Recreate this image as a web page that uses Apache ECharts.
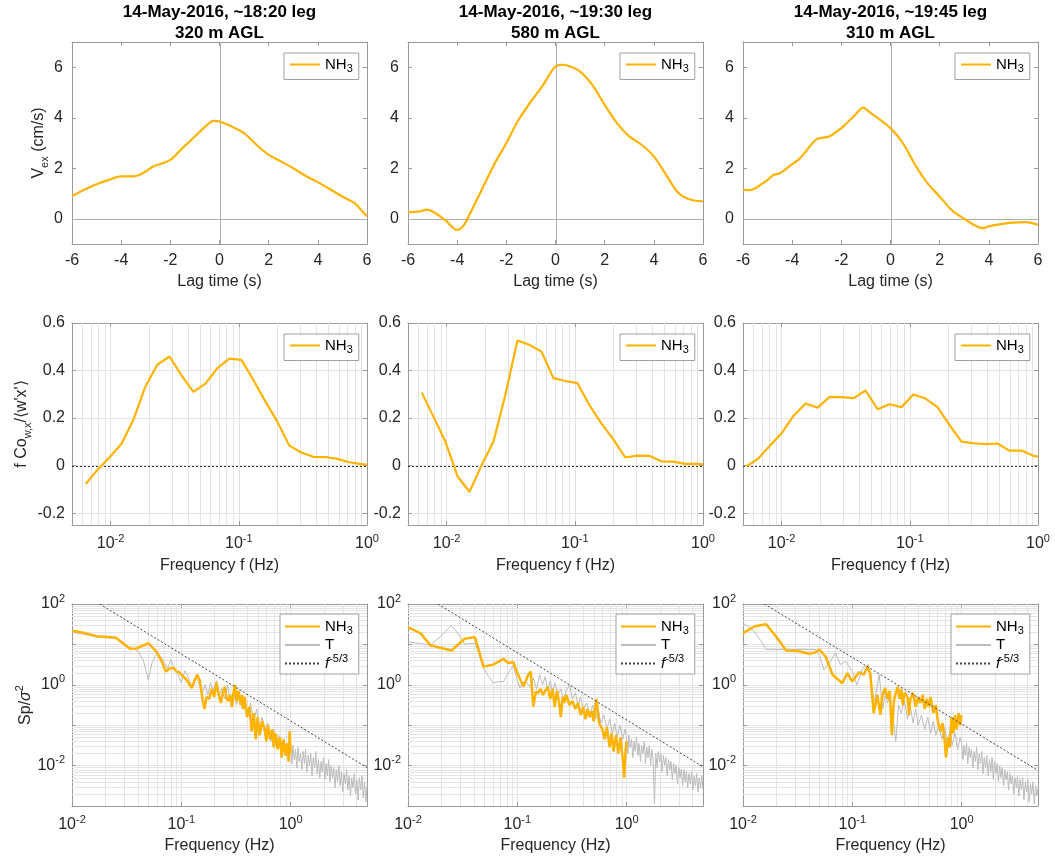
<!DOCTYPE html>
<html><head><meta charset="utf-8">
<script src="https://cdn.jsdelivr.net/npm/echarts@6/dist/echarts.min.js"></script>
<style>html,body{margin:0;padding:0;background:#fff}#c{width:1055px;height:860px}</style>
</head><body><div id="c"></div>
<script>
// ---------------- DATA ----------------
const titleLines = [
  ['14-May-2016, ~18:20 leg', '320 m AGL'],
  ['14-May-2016, ~19:30 leg', '580 m AGL'],
  ['14-May-2016, ~19:45 leg', '310 m AGL']
];
const lagTicks = [-6, -4, -2, 0, 2, 4, 6];

// Row 1: exchange velocity V_ex (cm/s) vs lag time (s): [lag, value]
const vex1 = [[-6,0.9],[-5.5,1.15],[-5,1.37],[-4.5,1.54],[-4,1.68],[-3.5,1.68],[-3.3,1.72],[-3,1.87],[-2.7,2.07],[-2.5,2.14],[-2,2.33],[-1.5,2.8],[-1,3.26],[-0.5,3.72],[-0.25,3.88],[0,3.85],[0.5,3.65],[1,3.39],[1.5,2.93],[2,2.53],[2.5,2.27],[3,2.0],[3.5,1.7],[4,1.45],[4.5,1.17],[5,0.88],[5.5,0.62],[5.75,0.36],[6,0.1]];
const vex2 = [[-6,0.25],[-5.5,0.29],[-5.25,0.36],[-5,0.29],[-4.5,-0.04],[-4,-0.44],[-3.75,-0.28],[-3.5,0.16],[-3,1.15],[-2.5,2.14],[-2,3.0],[-1.5,3.92],[-1,4.64],[-0.5,5.3],[-0.25,5.7],[0,6.03],[0.25,6.1],[0.5,6.06],[1,5.83],[1.5,5.3],[2,4.51],[2.5,3.79],[3,3.26],[3.5,2.93],[4,2.47],[4.5,1.74],[5,1.02],[5.5,0.75],[6,0.69]];
const vex3 = [[-6,1.15],[-5.75,1.13],[-5.5,1.21],[-5,1.54],[-4.75,1.74],[-4.5,1.8],[-4,2.16],[-3.75,2.33],[-3.5,2.6],[-3,3.15],[-2.5,3.26],[-2,3.59],[-1.5,4.05],[-1.1,4.4],[-1,4.34],[-0.8,4.18],[-0.5,3.98],[0,3.59],[0.5,3.0],[1,2.14],[1.5,1.41],[2,0.88],[2.5,0.33],[3,0.0],[3.5,-0.3],[3.75,-0.37],[4,-0.3],[4.5,-0.21],[5,-0.15],[5.5,-0.13],[6,-0.24]];

// Row 2: normalised cospectrum f Co / <w'x'> vs frequency (Hz): [f, value]
const cosp1 = [[0.0064,-0.077],[0.0079,-0.018],[0.0098,0.034],[0.0122,0.093],[0.0151,0.194],[0.0187,0.333],[0.0232,0.425],[0.0288,0.459],[0.0357,0.38],[0.0443,0.31],[0.0549,0.345],[0.0681,0.41],[0.0845,0.45],[0.1048,0.445],[0.1299,0.36],[0.1611,0.27],[0.1998,0.185],[0.2478,0.084],[0.3073,0.055],[0.3811,0.037],[0.4726,0.036],[0.5861,0.028],[0.7268,0.014],[0.9013,0.006],[1.0,0.004]];
const cosp2 = [[0.0064,0.307],[0.0079,0.206],[0.0098,0.10],[0.0122,-0.046],[0.0151,-0.11],[0.0187,0.0],[0.0232,0.10],[0.0288,0.30],[0.0357,0.526],[0.0443,0.508],[0.0549,0.48],[0.0681,0.368],[0.0845,0.356],[0.1048,0.347],[0.1299,0.255],[0.1611,0.178],[0.1998,0.11],[0.2478,0.034],[0.3073,0.042],[0.3811,0.041],[0.4726,0.018],[0.5861,0.017],[0.7268,0.007],[0.9013,0.007],[1.0,0.005]];
const cosp3 = [[0.0053,-0.004],[0.0065,0.027],[0.0081,0.083],[0.0100,0.136],[0.0124,0.21],[0.0154,0.261],[0.0191,0.244],[0.0237,0.289],[0.0294,0.288],[0.0365,0.284],[0.0452,0.316],[0.0561,0.237],[0.0695,0.258],[0.0862,0.246],[0.1069,0.299],[0.1326,0.282],[0.1644,0.246],[0.2039,0.171],[0.2529,0.101],[0.3136,0.094],[0.3889,0.09],[0.4823,0.093],[0.5981,0.063],[0.7417,0.063],[0.9197,0.041],[1.0,0.038]];

// Row 3: normalised spectra, [f (Hz), log10(Sp/sigma^2)]
const nh3Sp1 = [[0.010,1.34],[0.013,1.28],[0.017,1.20],[0.025,1.17],[0.034,0.89],[0.039,0.90],[0.050,1.03],[0.060,0.80],[0.067,0.55],[0.072,0.33],[0.078,0.40],[0.085,0.42],[0.090,0.33],[0.095,0.32],[0.10,0.25],[0.11,0.15],[0.125,-0.08],[0.132,0.10],[0.14,0.25],[0.148,0.10],[0.155,-0.30],[0.163,-0.60],[0.17,-0.30],[0.18,-0.35],[0.19,-0.10],[0.20,-0.30],[0.21,0.05],[0.22,-0.25],[0.23,-0.45],[0.24,-0.20],[0.25,-0.05],[0.26,-0.35],[0.27,-0.40],[0.28,-0.25],[0.29,-0.55],[0.30,-0.20],[0.31,0.00],[0.32,-0.40],[0.33,-0.15],[0.35,-0.50],[0.36,-0.25],[0.37,-0.60],[0.38,-0.30],[0.40,-0.80],[0.42,-0.55],[0.44,-1.15],[0.46,-0.70],[0.48,-1.35],[0.50,-0.80],[0.52,-1.25],[0.55,-0.90],[0.58,-1.10],[0.60,-1.40],[0.62,-1.00],[0.65,-1.35],[0.68,-1.10],[0.70,-1.55],[0.73,-1.20],[0.76,-1.60],[0.80,-1.30],[0.83,-1.80],[0.86,-1.35],[0.90,-1.75],[0.93,-1.45],[0.96,-1.90],[0.98,-1.15],[1.00,-1.70]];
const tSp1 = [[0.010,1.30],[0.013,1.25],[0.017,1.18],[0.025,1.15],[0.034,0.92],[0.040,0.85],[0.045,0.60],[0.050,0.12],[0.054,0.55],[0.060,0.80],[0.065,0.70],[0.070,0.55],[0.075,0.40],[0.080,0.62],[0.085,0.45],[0.092,0.30],[0.10,0.05],[0.108,0.35],[0.115,0.20],[0.125,-0.05],[0.135,0.20],[0.145,0.05],[0.155,-0.20],[0.165,0.00],[0.175,-0.25],[0.185,0.05],[0.195,-0.15],[0.21,0.10],[0.22,-0.30],[0.235,-0.10],[0.25,-0.35],[0.265,0.00],[0.28,-0.45],[0.30,-0.20],[0.32,-0.50],[0.34,-0.15],[0.36,-0.60],[0.38,-0.30],[0.40,-0.80],[0.43,-0.45],[0.46,-0.90],[0.49,-0.60],[0.52,-1.10],[0.55,-0.80],[0.58,-1.25],[0.62,-0.95],[0.66,-1.40],[0.70,-1.10],[0.74,-1.50],[0.78,-1.25],[0.82,-1.65],[0.87,-1.35],[0.92,-1.75],[0.97,-1.45],
  [1.00,-1.55],[1.03,-1.95],[1.05,-1.50],[1.08,-1.85],[1.11,-1.60],[1.14,-2.05],[1.17,-1.55],[1.20,-1.90],[1.23,-1.70],[1.27,-2.10],[1.30,-1.65],[1.34,-1.95],[1.37,-1.60],[1.41,-2.15],[1.45,-1.75],[1.49,-2.00],[1.53,-1.70],[1.57,-2.25],[1.61,-1.80],[1.66,-2.05],[1.70,-1.65],[1.75,-2.20],[1.80,-1.85],[1.85,-2.30],[1.90,-1.90],[1.95,-2.15],[2.00,-1.80],[2.06,-2.35],[2.11,-1.95],[2.17,-2.25],[2.23,-1.85],[2.29,-2.40],[2.35,-2.00],[2.42,-2.30],[2.48,-2.05],[2.55,-2.55],[2.62,-2.10],[2.69,-2.40],[2.77,-2.00],[2.84,-2.50],[2.92,-2.15],[3.00,-2.65],[3.08,-2.20],[3.17,-2.45],[3.25,-2.10],[3.34,-2.60],[3.43,-2.25],[3.53,-2.75],[3.62,-2.30],[3.72,-2.55],[3.83,-2.20],[3.93,-2.70],[4.04,-2.35],[4.15,-2.85],[4.26,-2.30],[4.38,-2.60],[4.50,-2.25],[4.62,-2.80],[4.75,-2.40],[4.88,-2.90],[5.00,-2.50]];
const nh3Sp2 = [[0.010,1.42],[0.013,1.28],[0.016,0.98],[0.025,0.85],[0.033,1.14],[0.041,1.18],[0.049,0.45],[0.060,0.50],[0.075,0.64],[0.083,0.54],[0.092,0.56],[0.10,0.29],[0.114,-0.04],[0.126,0.25],[0.133,0.33],[0.140,-0.54],[0.148,-0.17],[0.155,-0.20],[0.163,-0.10],[0.172,-0.25],[0.18,-0.15],[0.19,-0.05],[0.20,-0.35],[0.21,-0.10],[0.22,-0.55],[0.23,-0.15],[0.24,-0.40],[0.25,-0.80],[0.26,-0.30],[0.27,-0.45],[0.28,-0.25],[0.30,-0.50],[0.32,-0.40],[0.34,-0.60],[0.36,-0.45],[0.38,-0.75],[0.40,-0.55],[0.42,-0.85],[0.44,-0.60],[0.46,-0.80],[0.48,-0.65],[0.50,-0.90],[0.53,-0.35],[0.56,-0.95],[0.60,-1.10],[0.63,-1.35],[0.66,-1.05],[0.70,-1.55],[0.73,-1.20],[0.76,-1.65],[0.80,-1.25],[0.84,-1.70],[0.88,-1.30],[0.92,-1.80],[0.95,-2.30],[0.98,-1.60],[1.00,-1.40]];
const tSp2 = [[0.010,1.07],[0.013,1.02],[0.016,0.98],[0.020,1.20],[0.025,1.47],[0.029,1.25],[0.033,1.00],[0.037,1.02],[0.041,1.03],[0.045,0.75],[0.049,0.41],[0.055,0.20],[0.060,0.04],[0.068,0.08],[0.075,0.08],[0.083,0.30],[0.092,0.48],[0.099,0.15],[0.106,-0.08],[0.113,0.05],[0.12,0.08],[0.13,-0.05],[0.14,0.17],[0.15,-0.10],[0.16,0.25],[0.17,0.00],[0.18,0.20],[0.19,-0.15],[0.20,0.10],[0.21,-0.20],[0.22,0.05],[0.235,-0.25],[0.25,-0.10],[0.265,-0.40],[0.28,-0.15],[0.30,0.00],[0.32,-0.35],[0.34,-0.20],[0.36,-0.50],[0.38,-0.30],[0.40,-0.60],[0.43,-0.45],[0.46,-0.75],[0.49,-0.50],[0.52,-0.85],[0.55,-0.60],[0.58,-0.95],[0.62,-0.75],[0.66,-1.10],[0.70,-0.85],[0.74,-1.20],[0.78,-0.95],[0.82,-1.30],[0.87,-1.00],[0.92,-1.35],[0.97,-1.10],
  [1.00,-1.30],[1.03,-1.70],[1.05,-1.25],[1.08,-1.55],[1.11,-1.35],[1.14,-1.80],[1.17,-1.40],[1.20,-1.65],[1.23,-1.30],[1.27,-1.75],[1.30,-1.45],[1.34,-1.90],[1.37,-1.50],[1.41,-1.70],[1.45,-1.40],[1.49,-1.95],[1.53,-1.55],[1.57,-1.80],[1.61,-1.50],[1.66,-2.00],[1.70,-1.60],[1.75,-1.85],[1.80,-2.95],[1.85,-1.70],[1.90,-2.05],[1.95,-1.65],[2.00,-1.90],[2.06,-1.70],[2.11,-2.15],[2.17,-1.75],[2.23,-2.00],[2.29,-1.80],[2.35,-2.25],[2.42,-1.85],[2.48,-2.10],[2.55,-1.90],[2.62,-2.35],[2.69,-1.95],[2.77,-2.20],[2.84,-2.00],[2.92,-2.45],[3.00,-2.05],[3.08,-2.30],[3.17,-2.10],[3.25,-2.50],[3.34,-2.10],[3.43,-2.40],[3.53,-2.15],[3.62,-2.55],[3.72,-2.20],[3.83,-2.45],[3.93,-2.15],[4.04,-2.60],[4.15,-2.25],[4.26,-2.50],[4.38,-2.20],[4.50,-2.65],[4.62,-2.30],[4.75,-2.55],[4.88,-2.25],[5.00,-2.60]];
const nh3Sp3 = [[0.010,1.28],[0.0128,1.45],[0.0163,1.50],[0.020,1.20],[0.0248,0.85],[0.0327,0.83],[0.040,0.77],[0.045,0.79],[0.050,0.87],[0.057,0.70],[0.066,0.25],[0.081,0.04],[0.090,0.29],[0.100,0.08],[0.115,0.31],[0.128,0.25],[0.137,0.45],[0.146,0.29],[0.157,-0.70],[0.169,-0.25],[0.181,-0.74],[0.187,-0.29],[0.20,-0.08],[0.21,-0.35],[0.22,-0.15],[0.23,-1.24],[0.24,-0.40],[0.25,-0.20],[0.26,-0.05],[0.27,-0.35],[0.28,-0.10],[0.29,-0.50],[0.30,-0.20],[0.32,-0.30],[0.33,-0.75],[0.34,-0.35],[0.36,-0.20],[0.38,-0.55],[0.40,-0.30],[0.42,-0.45],[0.44,-0.25],[0.46,-0.60],[0.48,-0.35],[0.50,-0.55],[0.52,-0.30],[0.55,-0.70],[0.58,-0.50],[0.61,-0.95],[0.64,-1.15],[0.67,-0.95],[0.70,-1.40],[0.72,-1.80],[0.75,-1.30],[0.78,-1.55],[0.81,-0.80],[0.84,-1.20],[0.87,-0.75],[0.90,-1.10],[0.94,-0.70],[0.97,-1.00],[1.00,-0.75]];
const tSp3 = [[0.010,1.53],[0.0123,1.36],[0.0145,1.10],[0.0163,0.87],[0.020,0.87],[0.025,0.88],[0.030,0.87],[0.035,0.88],[0.040,0.87],[0.046,0.87],[0.050,0.75],[0.055,0.37],[0.062,0.54],[0.070,0.79],[0.078,0.50],[0.087,0.58],[0.100,0.33],[0.110,0.00],[0.124,0.41],[0.140,0.50],[0.150,-0.10],[0.160,-0.40],[0.176,0.25],[0.190,-0.60],[0.20,-0.20],[0.21,-0.45],[0.22,-0.30],[0.235,-0.75],[0.25,-1.40],[0.265,-0.50],[0.28,-0.70],[0.30,-0.40],[0.32,-0.85],[0.34,-0.55],[0.36,-0.95],[0.38,-0.60],[0.40,-1.00],[0.43,-0.75],[0.46,-1.10],[0.49,-0.80],[0.52,-1.20],[0.55,-0.90],[0.58,-1.25],[0.62,-1.00],[0.66,-1.35],[0.70,-1.05],[0.74,-1.45],[0.78,-1.15],[0.82,-1.50],[0.87,-1.20],[0.92,-1.60],[0.97,-1.30],
  [1.00,-1.45],[1.03,-1.85],[1.05,-1.50],[1.08,-1.75],[1.11,-1.45],[1.14,-1.95],[1.17,-1.55],[1.20,-1.80],[1.23,-1.60],[1.27,-2.05],[1.30,-1.65],[1.34,-1.90],[1.37,-1.55],[1.41,-2.10],[1.45,-1.70],[1.49,-1.95],[1.53,-1.65],[1.57,-2.20],[1.61,-1.80],[1.66,-2.05],[1.70,-1.75],[1.75,-2.25],[1.80,-1.85],[1.85,-2.15],[1.90,-1.80],[1.95,-2.35],[2.00,-1.90],[2.06,-2.20],[2.11,-1.95],[2.17,-2.40],[2.23,-2.00],[2.29,-2.30],[2.35,-2.05],[2.42,-2.50],[2.48,-2.10],[2.55,-2.35],[2.62,-2.15],[2.69,-2.60],[2.77,-2.20],[2.84,-2.45],[2.92,-2.25],[3.00,-2.70],[3.08,-2.30],[3.17,-2.55],[3.25,-2.25],[3.34,-2.75],[3.43,-2.35],[3.53,-2.60],[3.62,-2.30],[3.72,-2.85],[3.83,-2.40],[3.93,-2.65],[4.04,-2.35],[4.15,-2.90],[4.26,-2.45],[4.38,-2.70],[4.50,-2.40],[4.62,-2.95],[4.75,-2.50],[4.88,-2.75],[5.00,-2.55]];
// f^-5/3 reference lines: [f, Sp/sigma^2] end points
const ref53_1 = [[0.0179,100],[5,0.0089]];
const ref53_2 = [[0.0188,100],[5,0.0093]];
const ref53_3 = [[0.0157,100],[5,0.0076]];

// ---------------- STYLE / LAYOUT ----------------
const FONT = '"Liberation Sans", Arial, Helvetica, sans-serif';
const LAB = '#262626', BOX = '#9a9a9a', GRID = '#e4e4e4';
const ORANGE = '#FDB300', GRAY = '#bcbcbc';
const colLeft = [72, 408, 743], colW = 295;
const rowTop = [42, 323, 604], rowH = 202;
const xRanges = [[-6, 6], [0.005, 1], [0.01, 5]];
const yRanges = [[-1, 7], [-0.25, 0.6], [0.001, 100]];
const vexData = [vex1, vex2, vex3];
const cospData = [cosp1, cosp2, cosp3];
const nh3Data = [nh3Sp1, nh3Sp2, nh3Sp3];
const tData = [tSp1, tSp2, tSp3];
const refData = [ref53_1, ref53_2, ref53_3];

const expRich = {
  b: {fontSize: 16, lineHeight: 22, color: LAB, fontFamily: FONT},
  s: {fontSize: 11, lineHeight: 11, verticalAlign: 'top', color: LAB, fontFamily: FONT}
};
const nameRich = {
  n: {fontSize: 16, lineHeight: 22, color: LAB, fontFamily: FONT},
  ni: {fontSize: 16, lineHeight: 22, color: LAB, fontFamily: FONT, fontStyle: 'italic'},
  sub: {fontSize: 11, lineHeight: 11, verticalAlign: 'bottom', color: LAB, fontFamily: FONT},
  sup: {fontSize: 11, lineHeight: 11, verticalAlign: 'top', color: LAB, fontFamily: FONT}
};
function isDecade(v) { const e = Math.log10(v); return Math.abs(e - Math.round(e)) < 1e-6; }
function logLabel(evenOnly) {
  return function (v) {
    if (!isDecade(v)) return '';
    const e = Math.round(Math.log10(v));
    if (evenOnly && e % 2 !== 0) return '';
    return '{b|10}{s|' + e + '}';
  };
}
function minorVals(lo, hi) {
  const out = [];
  for (let e = -4; e <= 3; e++) for (let m = 2; m <= 9; m++) {
    const v = m * Math.pow(10, e);
    if (v > lo * 1.0001 && v < hi * 0.9999) out.push(v);
  }
  return out;
}
function legRich() {
  return {
    b: {fontSize: 15, lineHeight: 20, color: '#000', fontFamily: FONT},
    i: {fontSize: 15, lineHeight: 20, color: '#000', fontFamily: FONT, fontStyle: 'italic'},
    sub: {fontSize: 11, lineHeight: 11, verticalAlign: 'bottom', color: '#000', fontFamily: FONT},
    sup: {fontSize: 11, lineHeight: 11, verticalAlign: 'top', color: '#000', fontFamily: FONT}
  };
}
function lineSeries(g, items, style, z, xr, yr) {
  return {
    type: 'custom', xAxisIndex: g, yAxisIndex: g, z: z, silent: true, data: items,
    encode: {x: 0, y: 1},
    renderItem: function (params, api) {
      const kind = api.value(2);
      const crisp = v => Math.round(v) + 0.5;
      let shape;
      if (kind === 0) {
        const x = api.value(0);
        const p1 = api.coord([x, yr[0]]), p2 = api.coord([x, yr[1]]);
        shape = {x1: crisp(p1[0]), y1: p1[1], x2: crisp(p2[0]), y2: p2[1]};
      } else {
        const y = api.value(1);
        const p1 = api.coord([xr[0], y]), p2 = api.coord([xr[1], y]);
        shape = {x1: p1[0], y1: crisp(p1[1]), x2: p2[0], y2: crisp(p2[1])};
      }
      return {type: 'line', shape: shape, style: Object.assign({fill: null}, style)};
    }
  };
}

const grids = [], xAxes = [], yAxes = [], series = [], legends = [], titles = [];
const xMirror = [], yMirror = [];

for (let c = 0; c < 3; c++) {
  titles.push({
    text: titleLines[c].join('\n'), left: colLeft[c] + colW / 2, top: 2, textAlign: 'center', padding: 0,
    textStyle: {fontSize: 17, fontWeight: 'bold', lineHeight: 21, color: '#000', fontFamily: FONT}
  });
}

for (let r = 0; r < 3; r++) {
  for (let c = 0; c < 3; c++) {
    const g = r * 3 + c;
    const xr = xRanges[r], yr = yRanges[r];
    const logX = r > 0, logY = r === 2;
    grids.push({left: colLeft[c], top: rowTop[r], width: colW, height: rowH, containLabel: false, outerBoundsMode: 'none'});

    const xName = ['Lag time (s)', 'Frequency f (Hz)', 'Frequency (Hz)'][r];
    xAxes.push({
      gridIndex: g, type: logX ? 'log' : 'value', logBase: 10, min: xr[0], max: xr[1], position: 'bottom',
      axisLine: {show: true, onZero: false, lineStyle: {color: BOX, width: 1}},
      axisTick: {show: true, inside: true, length: 4, lineStyle: {color: BOX}},
      axisLabel: {
        show: true, margin: logX ? 8 : 9, color: LAB, fontSize: 16, fontFamily: FONT,
        formatter: logX ? logLabel(false) : (v => (lagTicks.indexOf(v) >= 0 ? String(v) : '')),
        rich: expRich
      },
      splitLine: {show: r > 0, lineStyle: {color: GRID, width: 1}},
      name: xName, nameLocation: 'middle', nameGap: [30, 33, 32][r],
      nameTextStyle: {fontSize: 16, color: LAB, fontFamily: FONT}
    });
    xMirror.push({
      gridIndex: g, type: logX ? 'log' : 'value', logBase: 10, min: xr[0], max: xr[1], position: 'top',
      axisLine: {show: true, onZero: false, lineStyle: {color: BOX, width: 1}},
      axisTick: {show: true, inside: true, length: 4, lineStyle: {color: BOX}},
      axisLabel: {show: false}, splitLine: {show: false}
    });

    let yFmt;
    if (r === 0) yFmt = v => (v >= 0 && v <= 6 && v % 2 === 0 ? String(v) : '');
    else if (r === 1) yFmt = v => { const k = Math.round(v / 0.2); return Math.abs(v - k * 0.2) < 1e-9 ? String(+(k * 0.2).toFixed(1)) : ''; };
    else yFmt = logLabel(true);
    const yAx = {
      gridIndex: g, type: logY ? 'log' : 'value', logBase: 10, min: yr[0], max: yr[1], position: 'left',
      axisLine: {show: true, onZero: false, lineStyle: {color: BOX, width: 1}},
      axisTick: {show: true, inside: true, length: 4, lineStyle: {color: BOX}},
      axisLabel: {show: true, margin: r === 0 ? 9 : 7, color: LAB, fontSize: 16, fontFamily: FONT, formatter: yFmt, rich: expRich},
      splitLine: {show: r > 0, lineStyle: {color: GRID, width: 1}}
    };
    if (c === 0) {
      yAx.name = ['{n|V}{sub|ex}{n| (cm/s)}', '{n|f Co}{sub|w,x}{n|/⟨w\'x\'⟩}', '{n|Sp/}{ni|σ}{sup|2}'][r];
      yAx.nameLocation = 'middle';
      yAx.nameGap = [22, 39, 34][r];
      yAx.nameTextStyle = {fontSize: 16, color: LAB, fontFamily: FONT, rich: nameRich};
    }
    yAxes.push(yAx);
    yMirror.push({
      gridIndex: g, type: logY ? 'log' : 'value', logBase: 10, min: yr[0], max: yr[1], position: 'right',
      axisLine: {show: true, onZero: false, lineStyle: {color: BOX, width: 1}},
      axisTick: {show: true, inside: true, length: 4, lineStyle: {color: BOX}},
      axisLabel: {show: false}, splitLine: {show: false}
    });

    // reference / minor grid lines through the axis scales
    const refItems = [], minorItems = [];
    if (r === 0) { refItems.push([0, yr[0], 0]); refItems.push([xr[0], 0, 1]); }
    if (r >= 1) minorVals(xr[0], xr[1]).forEach(v => minorItems.push([v, yr[0], 0]));
    if (r === 2) minorVals(yr[0], yr[1]).forEach(v => minorItems.push([xr[0], v, 1]));
    if (minorItems.length) series.push(lineSeries(g, minorItems, {stroke: GRID, lineWidth: 1}, 1, xr, yr));
    if (r === 0) series.push(lineSeries(g, refItems, {stroke: '#b0b0b0', lineWidth: 1}, 2, xr, yr));
    if (r === 1) series.push(lineSeries(g, [[xr[0], 0, 1]], {stroke: '#333', lineWidth: 1, lineDash: [2, 2]}, 2, xr, yr));

    const hideSym = {color: ORANGE, opacity: 0};
    if (r === 0) {
      series.push({name: 'NH3', type: 'line', xAxisIndex: g, yAxisIndex: g, data: vexData[c], smooth: 0.3,
        symbol: 'none', showSymbol: false, z: 4, lineStyle: {color: ORANGE, width: 2.2}, itemStyle: hideSym});
    } else if (r === 1) {
      series.push({name: 'NH3', type: 'line', xAxisIndex: g, yAxisIndex: g, data: cospData[c],
        symbol: 'none', showSymbol: false, z: 4, lineStyle: {color: ORANGE, width: 2.2}, itemStyle: hideSym});
    } else {
      series.push({name: 'T', type: 'line', xAxisIndex: g, yAxisIndex: g,
        data: tData[c].map(p => [p[0], Math.pow(10, p[1])]),
        symbol: 'none', showSymbol: false, z: 3, lineStyle: {color: GRAY, width: 1}, itemStyle: {color: GRAY, opacity: 0}});
      series.push({name: 'NH3s', type: 'line', xAxisIndex: g, yAxisIndex: g,
        data: nh3Data[c].map(p => [p[0], Math.pow(10, p[1])]),
        symbol: 'none', showSymbol: false, z: 4, lineStyle: {color: ORANGE, width: 2.5}, itemStyle: hideSym});
      series.push({name: 'f53', type: 'line', xAxisIndex: g, yAxisIndex: g, data: refData[c],
        symbol: 'none', showSymbol: false, z: 5, lineStyle: {color: '#444', width: 1, type: [2, 2]}, itemStyle: {color: '#444', opacity: 0}});
    }

    // legends
    const legRight = colLeft[c] + colW - 9;
    const common = {
      orient: 'vertical', selectedMode: false, borderColor: '#a0a0a0', borderWidth: 1,
      backgroundColor: '#fff', borderRadius: 0, itemStyle: {opacity: 0},
      textStyle: {fontSize: 15, color: '#000', fontFamily: FONT, rich: legRich()}
    };
    if (r < 2) {
      legends.push(Object.assign({}, common, {
        left: legRight - 74, top: rowTop[r] + 11,
        data: ['NH3'], itemWidth: 30, itemHeight: 10, itemGap: 0, padding: [4, 6, 5, 5],
        formatter: () => '{b|NH}{sub|3}'
      }));
    } else {
      legends.push(Object.assign({}, common, {
        left: legRight - 78, top: rowTop[r] + 10,
        data: ['NH3s', 'T', 'f53'], itemWidth: 35, itemHeight: 10, itemGap: 1, padding: [5, 6, 3, 4],
        formatter: n => ({NH3s: '{b|NH}{sub|3}', T: '{b|T}', f53: '{i|f}{sup|-5/3}'}[n])
      }));
    }
  }
}

const chart = echarts.init(document.getElementById('c'), null, {renderer: 'canvas'});
chart.setOption({
  animation: false,
  backgroundColor: '#fff',
  title: titles,
  grid: grids,
  xAxis: xAxes.concat(xMirror),
  yAxis: yAxes.concat(yMirror),
  legend: legends,
  series: series
});
</script>
</body></html>
